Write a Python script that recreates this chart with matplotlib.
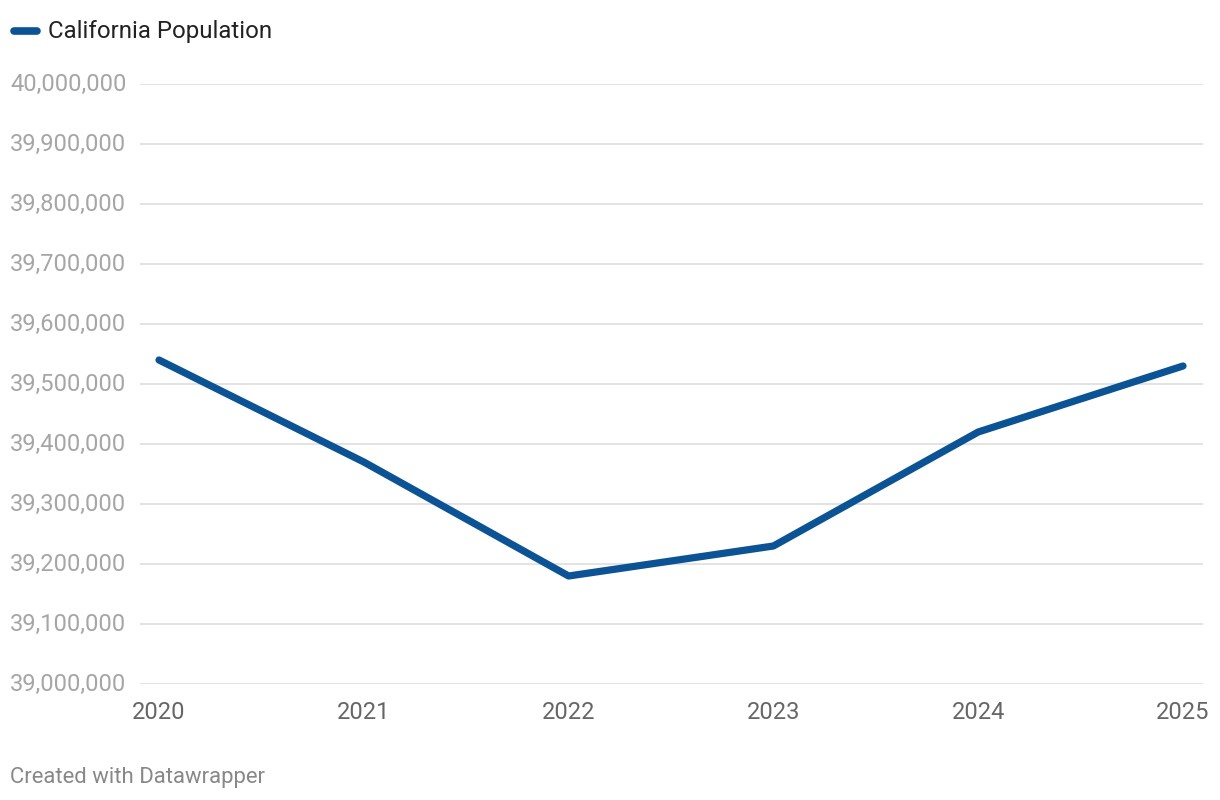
import matplotlib
matplotlib.use("Agg")
import matplotlib.pyplot as plt
from matplotlib.lines import Line2D
import matplotlib.transforms as mtrans

years = [2020, 2021, 2022, 2023, 2024, 2025]
population = [39540000, 39370000, 39180000, 39230000, 39420000, 39530000]
yticks = [39000000 + i * 100000 for i in range(11)]
series_name = "California Population"

plt.rcParams['font.family'] = ['Roboto', 'DejaVu Sans']

W, H = 1220, 800
fig = plt.figure(figsize=(W / 100, H / 100), dpi=100)
left, right, top, bottom = 140, 1203, 84, 684
ax = fig.add_axes([left / W, (H - bottom) / H, (right - left) / W, (bottom - top) / H])

color = "#0b5394"
ax.plot(years, population, color=color, lw=5.2, solid_capstyle='round',
        solid_joinstyle='round', zorder=3)

ax.set_ylim(39000000, 40000000)
ax.set_xlim(2020 - 19 / 204.8, 2025 + 20 / 204.8)
ax.set_yticks(yticks)
ax.set_xticks(years)
ax.set_xticklabels([str(y) for y in years])
ax.grid(axis='y', color='#e1e1e1', lw=1.3, zorder=0)
ax.grid(axis='x', visible=False)
for s in ax.spines.values():
    s.set_visible(False)
ax.tick_params(axis='both', length=0)
ax.tick_params(axis='x', labelsize=17, labelcolor='#666666', pad=12)
ax.set_yticklabels([])

tr = mtrans.blended_transform_factory(fig.transFigure, ax.transData)
for v in yticks:
    fig.text(10 / W, v, f"{v:,}", transform=tr, ha='left', va='center',
             fontsize=17, color='#a6a6a6')

fig.add_artist(Line2D([14 / W, 37 / W], [1 - 31 / H, 1 - 31 / H], color=color, lw=5.5,
                      solid_capstyle='round', transform=fig.transFigure))
fig.text(48 / W, 1 - 31.5 / H, series_name, ha='left', va='center', fontsize=17.3, color='#222222')

fig.text(10 / W, 1 - 777 / H, "Created with Datawrapper", ha='left', va='center',
         fontsize=15.9, color='#888888')

fig.savefig("out.png", dpi=100, facecolor='white')
